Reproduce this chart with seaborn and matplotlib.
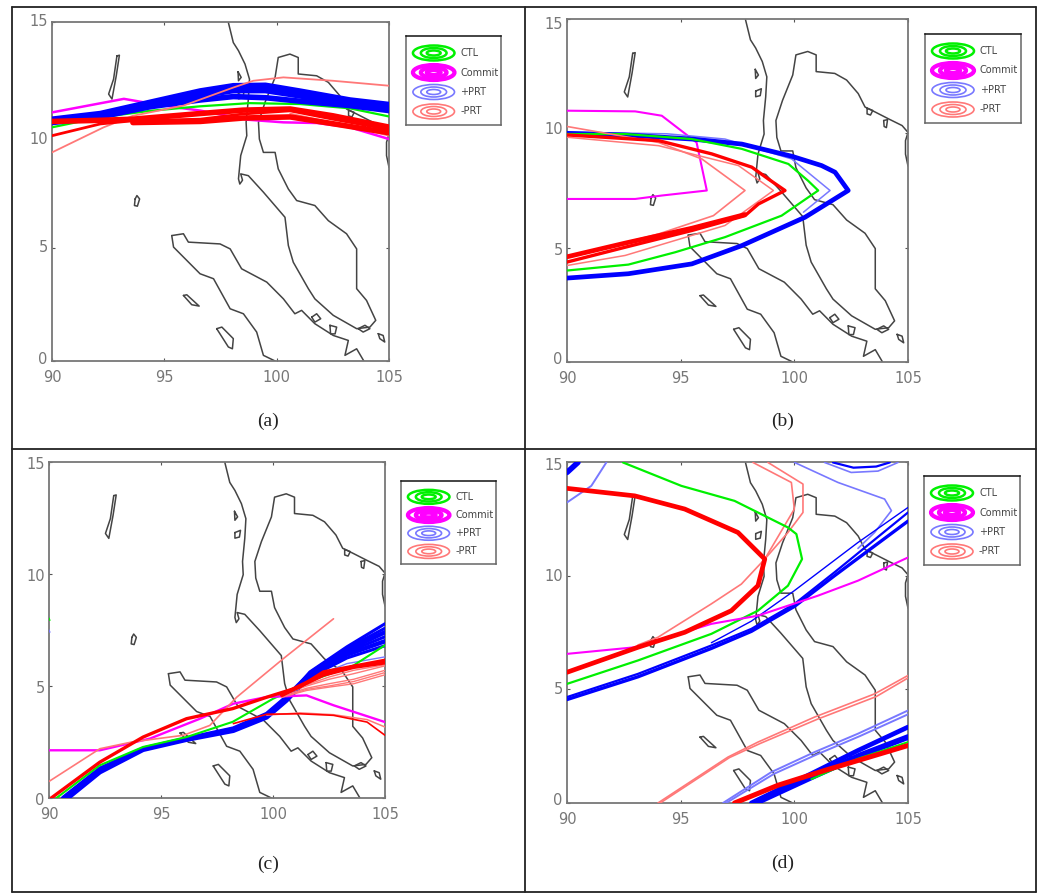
import matplotlib
matplotlib.use('Agg')
import matplotlib.pyplot as plt
import matplotlib.transforms as mtrans
from matplotlib.lines import Line2D
from matplotlib.patches import Ellipse
import pandas as pd
import seaborn as sns

W, H = 1037, 895

# Coastlines (lon, lat)
coast_main = [(97.85,14.98),(98.07,14.09),(98.30,13.73),(98.59,13.14),(98.79,12.47),(98.74,11.59),(98.64,10.56),
              (98.67,9.97),(98.40,9.09),(98.30,8.06),(98.36,7.83),(98.48,8.0),(98.40,8.28),(98.74,8.20),(99.41,7.47),
              (100.37,6.36),(100.52,5.11),(100.74,4.37),(101.41,3.20),(101.70,2.75),(102.52,2.02),(103.56,1.43),
              (104.15,1.50),(104.41,1.80),(104.0,2.68),(103.56,3.20),(103.56,4.96),(103.11,5.63),(102.30,6.21),
              (101.70,6.88),(100.89,7.10),(100.52,7.61),(100.07,8.50),(99.93,9.23),(99.41,9.23),(99.23,9.82),
              (99.19,10.56),(99.48,11.44),(99.93,12.55),(100.07,13.43),(100.59,13.58),(100.96,13.43),(100.96,12.70),
              (101.78,12.62),(102.30,12.33),(102.81,11.74),(103.11,11.15),(103.56,10.93),(104.15,10.63),(104.74,10.34),
              (105.0,10.04),(104.89,9.68),(104.89,9.09),(105.0,8.57)]
coast_sumatra_ne = [(95.33,5.55),(95.85,5.63),(96.07,5.26),(97.48,5.18),(97.93,4.96),(98.44,4.08),(99.56,3.49),
                    (100.30,2.75),(100.81,2.09),(101.11,2.24),(101.70,1.65),(102.52,1.13),(103.19,0.91),(103.04,0.25),
                    (103.56,0.54),(103.88,0.0)]
coast_sumatra_sw = [(95.33,5.55),(95.41,5.04),(96.59,3.86),(97.19,3.64),(97.93,2.31),(98.52,2.09),(99.11,1.28),
                    (99.41,0.25),(99.93,0.0)]
isl_andaman = [(92.89,13.5),(93.0,13.53),(92.86,12.62),(92.67,11.59),(92.52,11.81),(92.74,12.47),(92.89,13.5)]
isl_small = [(93.7,7.17),(93.78,7.32),(93.9,7.17),(93.8,6.85),(93.67,6.88),(93.7,7.17)]
isl_simeulue = [(95.85,2.9),(96.0,2.93),(96.55,2.43),(96.22,2.49),(95.85,2.9)]
isl_nias = [(97.33,1.43),(97.56,1.5),(98.07,0.99),(98.03,0.54),(97.85,0.62),(97.33,1.43)]
isl_bengkalis = [(101.56,1.94),(101.78,2.09),(101.96,1.87),(101.7,1.72),(101.56,1.94)]
isl_rupat = [(102.37,1.58),(102.67,1.50),(102.6,1.2),(102.4,1.2),(102.37,1.58)]
isl_batam = [(103.63,1.43),(103.93,1.58),(104.15,1.43),(103.85,1.28),(103.63,1.43)]
isl_bintan = [(104.52,1.21),(104.74,1.13),(104.81,0.84),(104.59,0.99),(104.52,1.21)]
isl_phuquoc = [(103.93,10.56),(104.1,10.6),(104.05,10.25),(103.95,10.3),(103.93,10.56)]
isl_kong = [(103.2,11.1),(103.45,11.0),(103.35,10.8),(103.2,10.85),(103.2,11.1)]
isl_mergui = [(98.28,12.8),(98.42,12.55),(98.3,12.4),(98.28,12.8)]
isl_tavoy = [(98.3,11.85),(98.55,11.95),(98.5,11.65),(98.3,11.6),(98.3,11.85)]
coast_all = [coast_main, coast_sumatra_ne, coast_sumatra_sw, isl_andaman, isl_small, isl_simeulue, isl_nias,
             isl_bengkalis, isl_rupat, isl_batam, isl_bintan, isl_phuquoc, isl_kong, isl_mergui, isl_tavoy]

# Panel (a) tracks
a_magenta = [(90,11.0),(93.2,11.6),(94.07,11.45),(95.55,11.22),(96.6,11.08),(98.67,10.68),(100.3,10.56),(101.8,10.53),(103.26,10.34),(105,9.82)]
a_green = [(90,10.34),(92.15,10.78),(94.37,11.07),(96.6,11.27),(98.8,11.41),(101.04,11.37),(103.26,11.18),(105,10.82)]
a_blue1 = [(90,10.7),(92.15,10.95),(94.37,11.45),(96.6,11.95),(98.07,12.18),(99.5,12.2),(101,11.95),(103.26,11.55),(105,11.35)]
a_blue2 = [(90,10.62),(92.15,10.85),(94.37,11.35),(96.6,11.75),(98.07,11.98),(99.5,11.98),(101,11.75),(103.26,11.4),(105,11.2)]
a_blue3 = [(90,10.55),(92.15,10.8),(94.37,11.25),(96.6,11.55),(98.07,11.7),(99.5,11.65),(101,11.5),(103.26,11.3),(105,11.08)]
a_red1 = [(90,9.97),(92.15,10.49),(93.6,10.63),(96.6,10.7),(98.5,10.93),(100.6,11.07),(102.5,10.7),(105,10.24)]
a_red2 = [(90,10.6),(92.15,10.65),(93.6,10.7),(96.6,10.95),(98.5,11.1),(100.6,11.15),(102.5,10.85),(105,10.35)]
a_red3 = [(93.6,10.55),(96.6,10.6),(98.5,10.75),(100.6,10.8),(102.5,10.5),(105,10.1)]
a_lred1 = [(90,9.23),(92.3,10.34),(93.6,10.85),(95.85,11.3),(98.07,12.1),(98.96,12.4),(100.3,12.55),(102.5,12.4),(105,12.18)]
a_lred2 = [(100.6,10.95),(102.5,10.55),(105,9.97)]

# Panel (b) tracks
b_magenta = [(90,10.99),(93,10.96),(94.17,10.77),(95.7,9.6),(96.15,7.5),(94.17,7.28),(93,7.13),(90,7.13)]
b_green = [(90,4.0),(92.7,4.26),(94.76,4.8),(96.95,5.46),(99.44,6.4),(101.05,7.5),(100.6,7.93),(99.74,8.66),(97.69,9.32),(95.49,9.75),(92.56,9.97),(90,9.97)]
b_blue = [(90,3.67),(92.7,3.86),(95.49,4.29),(97.69,5.09),(100.47,6.33),(102.37,7.5),(101.79,8.3),(101.2,8.59),(99.88,9.0),(97.69,9.53),(95.49,9.75),(92.56,9.93),(90,10.0)]
b_lblue = [(90,10.05),(94.4,9.98),(96.95,9.75),(99.88,8.88),(101.57,7.5),(100.4,6.55)]
b_red = [(90,4.37),(92.56,5.02),(95.49,5.75),(97.83,6.4),(98.42,6.91),(99.59,7.5),(98.86,8.0),(98.13,8.52),(96.37,9.1),(94.03,9.68),(90,9.93)]
b_red_low = [(90,4.6),(92.56,5.2),(95.49,5.85),(97.83,6.45)]
b_lred1 = [(90,4.22),(92.56,4.66),(96.95,5.97),(99.08,7.5),(97.54,8.59),(94.03,9.46),(90,9.83)]
b_lred2 = [(90,4.58),(94.03,5.6),(96.44,6.4),(97.83,7.5),(95.93,8.88),(94.03,9.6),(90,10.3)]

# Panel (c) tracks
c_blue1 = [(90.63,0),(92.27,1.3),(94.2,2.2),(96.14,2.65),(98.23,3.1),(99.72,3.69),(100.6,4.43),(101.65,5.63),(103.3,6.75),(105,7.78)]
c_blue2 = [(90.63,0),(92.27,1.3),(94.2,2.2),(96.14,2.65),(98.23,3.1),(99.72,3.75),(100.6,4.5),(101.65,5.55),(103.3,6.6),(105,7.4)]
c_blue3 = [(90.85,0),(92.27,1.15),(94.2,2.15),(96.14,2.6),(98.23,3.0),(99.72,3.6),(100.6,4.35),(101.65,5.45),(103.3,6.4),(105,7.0)]
c_blue4 = [(101.65,5.35),(103.3,6.0),(105,6.3)]
c_blue5 = [(101.65,5.6),(103.3,6.68),(105,7.58)]
c_blue6 = [(101.65,5.5),(103.3,6.5),(105,7.2)]
c_blue7 = [(101.65,5.4),(103.3,6.25),(105,6.8)]
c_green = [(90.33,0),(92.27,1.46),(94.2,2.28),(96.14,2.72),(98.2,3.4),(100.0,4.43),(101.95,5.33),(103.6,5.92),(105,6.82)]
c_magenta = [(90,2.13),(92.27,2.13),(94.5,2.65),(96.74,3.54),(98.23,4.21),(99.72,4.51),(101.5,4.58),(102.7,4.14),(105,3.39)]
c_red = [(90.1,0),(92.27,1.6),(94.2,2.72),(96.14,3.54),(98.2,3.99),(99.72,4.5),(101.2,4.96),(102.25,5.63),(105,6.15)]
c_red2 = [(100.4,4.6),(101.2,5.0),(102.25,5.5),(103.6,5.85),(105,6.05)]
c_lred_fan1 = [(100.4,4.6),(101.5,5.0),(102.5,5.3),(103.6,5.55),(105,5.9)]
c_lred_fan2 = [(100.4,4.55),(101.5,4.9),(102.5,5.1),(103.6,5.3),(105,5.7)]
c_lred_fan3 = [(100.4,4.5),(101.5,4.8),(102.5,4.95),(103.6,5.1),(105,5.5)]
c_lred_fan4 = [(100.4,4.6),(101.5,5.05),(102.5,5.4),(103.6,5.7),(105,5.95)]
c_lred_fan5 = [(100.4,4.5),(101.5,4.85),(102.5,5.0),(103.6,5.2),(105,5.6)]
c_lred_long = [(90,0.74),(92.27,2.2),(93.7,2.5),(96.0,2.8),(97.18,3.24),(98.38,4.5),(100.46,6.22),(102.7,8.0)]
c_red_arc = [(98.23,3.32),(99.72,3.74),(101.2,3.76),(102.7,3.69),(104.2,3.39),(105,2.8)]
c_lred_arc = [(99.72,3.7),(101.2,3.8),(102.7,3.72),(104.2,3.5),(105,3.17)]
c_edge_green = [(90,8.03),(90.04,7.93)]
c_edge_blue = [(90,7.5),(90.04,7.4)]

# Panel (d) tracks
d_green = [(92.46,14.98),(95.03,13.95),(97.37,13.29),(99.72,12.12),(100.09,11.83),(100.34,10.73),(99.72,9.56),(98.4,8.46),(96.35,7.44),(93.12,6.27),(90,5.24)]
d_magenta = [(90,6.56),(92.98,6.85),(96.35,7.88),(98.4,8.24),(101.04,9.12),(102.8,9.78),(105,10.8)]
d_blue1 = [(90,4.66),(93.12,5.68),(96.35,6.93),(98.11,7.66),(100.01,8.76),(101.77,10.15),(105,12.78)]
d_blue2 = [(90,4.55),(93.12,5.55),(96.35,6.8),(98.11,7.55),(100.01,8.65),(101.77,10.0),(105,12.4)]
d_lblue1 = [(96.35,7.05),(98.11,8.0),(100.0,9.34),(102.8,11.46),(105,13.0)]
d_blue_corner = [(90,14.54),(90.48,14.98)]
d_lblue2 = [(90,13.22),(91.07,13.95),(91.73,14.98)]
d_lblue3 = [(100.01,14.98),(101.92,14.1),(103.97,13.37),(104.27,12.86),(103.53,11.9),(102.8,11.2)]
d_lblue4 = [(101.33,14.98),(102.5,14.54),(103.68,14.6),(104.56,14.98)]
d_blue_top = [(101.7,14.98),(102.6,14.75),(103.6,14.8),(104.2,14.98)]
d_red_loop = [(90,13.84),(92.98,13.51),(95.18,12.93),(97.52,11.9),(98.7,10.73),(98.4,9.56),(97.23,8.46),(95.18,7.51),(93.12,6.85),(90,5.75)]
d_lred1 = [(98.7,10.73),(97.67,9.63),(96.35,8.76),(94,7.29),(93.12,6.95)]
d_lred2 = [(98.18,14.98),(99.87,14.1),(100.0,12.93),(98.7,10.73)]
d_lred3 = [(98.84,14.98),(100.38,14.03),(100.38,12.78),(99.72,11.9),(98.7,10.73)]
d_lred4 = [(94.0,0),(97.08,2.02),(98.4,2.68),(100.89,3.78),(103.53,4.8),(105,5.61)]
d_lred5 = [(94.1,0),(97.15,2.0),(98.5,2.62),(101.0,3.68),(103.6,4.68),(105,5.5)]
d_lblue5 = [(96.86,0),(98.99,1.36),(100.89,2.24),(102.8,3.05),(105,4.07)]
d_lblue6 = [(97.0,0),(99.1,1.28),(101.0,2.14),(102.9,2.95),(105,3.9)]
d_blue3 = [(98.11,0),(100.75,1.29),(102.8,2.31),(105,3.34)]
d_blue4 = [(98.3,0),(100.9,1.2),(102.9,2.1),(105,2.9)]
d_green2 = [(100.75,1.05),(102.8,1.95),(105,2.68)]
d_red3 = [(97.37,0),(99.28,0.78),(101.33,1.43),(105,2.53)]

x_ticks = [90, 95, 100, 105]
y_ticks = [0, 5, 10, 15]
legend_labels = ['CTL', 'Commit', '+PRT', '-PRT']
panel_labels = ['(a)', '(b)', '(c)', '(d)']

GREEN, MAGENTA, BLUE, LBLUE, RED, LRED = '#00f000', '#ff00ff', '#0000ff', '#7878ff', '#ff0000', '#ff7878'

# (track, colour, width), in drawing order
tracks_a = [(a_magenta, MAGENTA, 1.8), (a_green, GREEN, 1.6), (a_blue1, BLUE, 4.0), (a_blue2, BLUE, 4.5), (a_blue3, BLUE, 4.0),
            (a_lred1, LRED, 1.3), (a_lred2, LRED, 1.2), (a_red1, RED, 2.0), (a_red2, RED, 4.0), (a_red3, RED, 4.0)]
tracks_b = [(b_magenta, MAGENTA, 1.5), (b_lblue, LBLUE, 1.1), (b_blue, BLUE, 3.4), (b_green, GREEN, 1.6),
            (b_lred1, LRED, 1.1), (b_lred2, LRED, 1.2), (b_red, RED, 2.4), (b_red_low, RED, 3.4)]
tracks_c = [(c_blue4, LBLUE, 1.0), (c_blue1, BLUE, 2.2), (c_blue2, BLUE, 3.2), (c_blue3, BLUE, 3.2),
            (c_blue5, BLUE, 2.2), (c_blue6, BLUE, 2.2), (c_blue7, BLUE, 2.2), (c_green, GREEN, 1.5),
            (c_magenta, MAGENTA, 1.7), (c_lred_long, LRED, 1.2), (c_lred_fan1, LRED, 1.0), (c_lred_fan2, LRED, 1.0),
            (c_lred_fan3, LRED, 1.0), (c_lred_fan4, LRED, 1.0), (c_lred_fan5, LRED, 1.0), (c_lred_arc, LRED, 1.1),
            (c_red_arc, RED, 1.2), (c_red, RED, 2.4), (c_red2, RED, 3.0), (c_edge_green, GREEN, 1.0), (c_edge_blue, LBLUE, 1.0)]
tracks_d = [(d_lblue3, LBLUE, 1.2), (d_lblue4, LBLUE, 1.2), (d_blue_top, BLUE, 1.6), (d_lblue2, LBLUE, 1.4), (d_blue_corner, BLUE, 4.0),
            (d_lred2, LRED, 1.2), (d_lred3, LRED, 1.2), (d_green, GREEN, 1.6), (d_lblue1, BLUE, 1.0), (d_blue1, BLUE, 1.6), (d_blue2, BLUE, 2.4),
            (d_magenta, MAGENTA, 1.5), (d_lred1, LRED, 1.2), (d_red_loop, RED, 3.4),
            (d_lred4, LRED, 1.2), (d_lred5, LRED, 1.2), (d_lblue5, LBLUE, 1.4), (d_lblue6, LBLUE, 1.4),
            (d_blue3, BLUE, 3.4), (d_blue4, BLUE, 4.2), (d_green2, GREEN, 1.4), (d_red3, RED, 3.6)]
all_tracks = [tracks_a, tracks_b, tracks_c, tracks_d]

# Pixel boxes: left, top, right, bottom
axes_boxes = [(52, 23, 389, 362), (567, 20, 908, 363), (49, 463, 385, 799), (567, 463, 908, 804)]
legend_boxes = [(406, 37, 501, 126), (925, 35, 1021, 124), (401, 482, 496, 565), (924, 477, 1020, 566)]
label_centres = [(268, 421), (783, 421), (268, 864), (783, 863)]
# Upward shift of the y tick labels in pixels, one per tick, as in the scanned panels
ytick_shift = [[4, 3, -2, 3], [5, 0, 6, -3], [0, 0, 0, 0], [5, 2, 2, -1]]

sns.set_style('white')


def add_box(fig, box):
    l, t, r, b = box
    return fig.add_axes([l / W, 1 - b / H, (r - l) / W, (b - t) / H])


def draw_line(ax, pts, color, lw, zorder=2):
    df = pd.DataFrame(pts, columns=['lon', 'lat'])
    sns.lineplot(data=df, x='lon', y='lat', sort=False, estimator=None, color=color,
                 linewidth=lw, legend=False, ax=ax, zorder=zorder)


fig = plt.figure(figsize=(W / 100, H / 100), dpi=100, facecolor='white')

for i in range(4):
    ax = add_box(fig, axes_boxes[i])
    for part in coast_all:
        draw_line(ax, part, '#444444', 1.1)
    for pts, color, lw in all_tracks[i]:
        draw_line(ax, pts, color, lw, zorder=3)

    ax.set_xlim(90, 105)
    ax.set_ylim(0, 15)
    ax.set_xticks(x_ticks)
    ax.set_yticks(y_ticks)
    ax.set_xlabel('')
    ax.set_ylabel('')
    ax.tick_params(direction='in', length=2.5, width=0.8, color='#555555', labelcolor='#777777',
                   labelsize=10.5, top=True, right=True, left=True, bottom=True)
    ax.tick_params(axis='x', pad=6)
    ax.tick_params(axis='y', pad=3)
    for lab, up in zip(ax.get_yticklabels(), ytick_shift[i]):
        lab.set_transform(lab.get_transform() + mtrans.ScaledTranslation(0, up / 100, fig.dpi_scale_trans))
    for s in ax.spines.values():
        s.set_visible(True)
        s.set_color('#777777')
        s.set_linewidth(1.3)

    # Hand-made legend box with the contour glyphs
    lg = add_box(fig, legend_boxes[i])
    lg.set_xlim(0, 96)
    lg.set_ylim(89, 0)
    lg.set_xticks([])
    lg.set_yticks([])
    for s in lg.spines.values():
        s.set_visible(True)
        s.set_color('#666666')
        s.set_linewidth(1.1)
    lg.spines['top'].set_color('#111111')
    legend_colors = [GREEN, MAGENTA, LBLUE, LRED]
    legend_widths = [1.8, 3.0, 1.2, 1.2]
    for k, name in enumerate(legend_labels):
        yc = 17 + k * 19.5
        for ew, eh in [(42, 15), (26, 10), (14, 5)]:
            lg.add_patch(Ellipse((28, yc), ew, eh, fill=False, edgecolor=legend_colors[k], linewidth=legend_widths[k]))
        lg.text(55, yc - 1, name, fontsize=7, color='#444444', va='center', ha='left', clip_on=False)

    fig.text(label_centres[i][0] / W, 1 - label_centres[i][1] / H, panel_labels[i], family='Liberation Serif',
             fontsize=14, color='#222222', ha='center', va='center')

# Outer frame of the four-cell table
frame = [((12, 12), (8, 893)), ((525, 525), (8, 893)), ((1036, 1036), (8, 893)),
         ((12, 1036), (8, 8)), ((12, 1036), (450, 450)), ((12, 1036), (893, 893))]
for xs, ys in frame:
    fig.add_artist(Line2D([x / W for x in xs], [1 - y / H for y in ys], color='#222222', linewidth=1.3))

fig.savefig('out.png', dpi=100)
